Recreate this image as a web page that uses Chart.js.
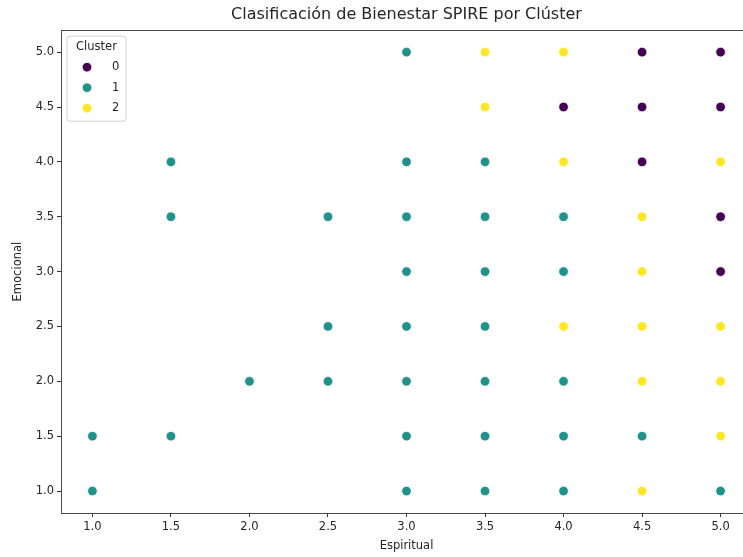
<!DOCTYPE html>
<html>
<head>
<meta charset="utf-8">
<title>Clasificación de Bienestar SPIRE por Clúster</title>
<script src="https://cdn.jsdelivr.net/npm/chart.js@4.4.0/dist/chart.umd.min.js"></script>
<style>
  html, body { margin: 0; padding: 0; background: #fff; overflow: hidden; }
  #wrap { width: 770px; height: 557px; }
</style>
</head>
<body>
<div id="wrap"><canvas id="spireChart"></canvas></div>
<script>
// one entry per respondent: spiritual score, emotional score, assigned cluster
var espiritual = [
  3.0, 3.5, 4.0, 4.5, 5.0,
  3.5, 4.0, 4.5, 5.0,
  1.5, 3.0, 3.5, 4.0, 4.5, 5.0,
  1.5, 2.5, 3.0, 3.5, 4.0, 4.5, 5.0,
  3.0, 3.5, 4.0, 4.5, 5.0,
  2.5, 3.0, 3.5, 4.0, 4.5, 5.0,
  2.0, 2.5, 3.0, 3.5, 4.0, 4.5, 5.0,
  1.0, 1.5, 3.0, 3.5, 4.0, 4.5, 5.0,
  1.0, 3.0, 3.5, 4.0, 4.5, 5.0
];
var emocional = [
  5.0, 5.0, 5.0, 5.0, 5.0,
  4.5, 4.5, 4.5, 4.5,
  4.0, 4.0, 4.0, 4.0, 4.0, 4.0,
  3.5, 3.5, 3.5, 3.5, 3.5, 3.5, 3.5,
  3.0, 3.0, 3.0, 3.0, 3.0,
  2.5, 2.5, 2.5, 2.5, 2.5, 2.5,
  2.0, 2.0, 2.0, 2.0, 2.0, 2.0, 2.0,
  1.5, 1.5, 1.5, 1.5, 1.5, 1.5, 1.5,
  1.0, 1.0, 1.0, 1.0, 1.0, 1.0
];
var cluster = [
  1, 2, 2, 0, 0,
  2, 0, 0, 0,
  1, 1, 1, 2, 0, 2,
  1, 1, 1, 1, 1, 2, 0,
  1, 1, 1, 2, 0,
  1, 1, 1, 2, 2, 2,
  1, 1, 1, 1, 1, 2, 2,
  1, 1, 1, 1, 1, 1, 2,
  1, 1, 1, 1, 2, 1
];

var clusterNames = ['0', '1', '2'];
var clusterColors = ['#440154', '#21918c', '#fde725'];

var xTicks = [1.0, 1.5, 2.0, 2.5, 3.0, 3.5, 4.0, 4.5, 5.0];
var yTicks = [1.0, 1.5, 2.0, 2.5, 3.0, 3.5, 4.0, 4.5, 5.0];

var FONT = "'DejaVu Sans', sans-serif";
var TEXT = '#262626';

function buildDatasets(){
    var sets = [];
    for (var c = 0; c < clusterNames.length; c++){
        var pts = [];
        for (var i = 0; i < cluster.length; i++){
            if (cluster[i] == c) pts.push({x: espiritual[i], y: emocional[i]});
        }
        sets.push({
            label: clusterNames[c],
            data: pts,
            backgroundColor: clusterColors[c],
            borderColor: '#ffffff',
            borderWidth: 0.75,
            pointRadius: 4.8,
            pointHoverRadius: 4.8
        });
    }
    return sets;
}

// centre the title over the plot area instead of the whole canvas
var titleOverPlot = {
    id: 'titleOverPlot',
    afterLayout: function(chart){
        if (chart.titleBlock){
            chart.titleBlock.left = chart.chartArea.left;
            chart.titleBlock.right = chart.chartArea.right;
        }
    }
};

// box around the whole plot area (all four spines)
var framePlugin = {
    id: 'frame',
    afterDatasetsDraw: function(chart){
        var a = chart.chartArea, ctx = chart.ctx;
        ctx.save();
        ctx.strokeStyle = '#4a4a4a';
        ctx.lineWidth = 1;
        ctx.strokeRect(Math.round(a.left) + 0.5, Math.round(a.top) + 0.5,
                       Math.round(a.right - a.left), Math.round(a.bottom - a.top));
        ctx.restore();
    }
};

// legend box in the upper left corner of the plot
var clusterLegend = {
    id: 'clusterLegend',
    afterDraw: function(chart){
        var a = chart.chartArea, ctx = chart.ctx;
        var bx = a.left + 6, by = a.top + 6, bw = 59, bh = 85, r = 3;
        ctx.save();
        ctx.beginPath();
        ctx.moveTo(bx + r, by);
        ctx.arcTo(bx + bw, by, bx + bw, by + bh, r);
        ctx.arcTo(bx + bw, by + bh, bx, by + bh, r);
        ctx.arcTo(bx, by + bh, bx, by, r);
        ctx.arcTo(bx, by, bx + bw, by, r);
        ctx.closePath();
        ctx.fillStyle = 'rgba(255,255,255,0.8)';
        ctx.fill();
        ctx.strokeStyle = '#d0d0d0';
        ctx.lineWidth = 1;
        ctx.stroke();

        ctx.fillStyle = TEXT;
        ctx.font = '11.5px ' + FONT;
        ctx.textBaseline = 'middle';
        ctx.textAlign = 'center';
        ctx.fillText('Cluster', bx + bw / 2, by + 11);

        chart.data.datasets.forEach(function(ds, k){
            var cy = by + 31 + k * 20.5;
            ctx.beginPath();
            ctx.arc(bx + 20, cy, 4.8, 0, Math.PI * 2);
            ctx.fillStyle = ds.backgroundColor;
            ctx.fill();
            ctx.strokeStyle = '#ffffff';
            ctx.lineWidth = 0.75;
            ctx.stroke();
            ctx.fillStyle = TEXT;
            ctx.textAlign = 'left';
            ctx.fillText(ds.label, bx + 45, cy);
        });
        ctx.restore();
    }
};

function axis(title, ticksList, fitFn, titlePad){
    return {
        type: 'linear',
        min: 0.8,
        max: 5.2,
        border: { display: false },
        grid: {
            drawOnChartArea: false,
            drawTicks: true,
            tickLength: 4,
            tickColor: '#333',
            tickWidth: 1
        },
        ticks: {
            includeBounds: false,
            padding: 3,
            color: TEXT,
            font: { family: FONT, size: 11.5 },
            callback: function(v){ return Number(v).toFixed(1); }
        },
        afterBuildTicks: function(scale){
            scale.ticks = ticksList.map(function(v){ return {value: v}; });
        },
        afterFit: fitFn,
        title: {
            display: true,
            text: title,
            color: TEXT,
            font: { family: FONT, size: 11.5 },
            padding: titlePad
        }
    };
}

var ctx = document.getElementById('spireChart').getContext('2d');
var spireChart = new Chart(ctx, {
    type: 'scatter',
    data: { datasets: buildDatasets() },
    options: {
        responsive: true,
        maintainAspectRatio: false,
        animation: false,
        layout: { padding: { left: 0, right: 18, top: 0, bottom: 0 } },
        scales: {
            x: axis('Espiritual', xTicks, function(s){ s.height = 44; }, { top: 0, bottom: 4 }),
            y: axis('Emocional', yTicks, function(s){ s.width = 61; }, { top: 11, bottom: 11 })
        },
        plugins: {
            legend: { display: false },
            tooltip: { enabled: false },
            title: {
                display: true,
                text: 'Clasificación de Bienestar SPIRE por Clúster',
                color: TEXT,
                font: { family: FONT, size: 16, weight: 'normal' },
                padding: { top: 5.5, bottom: 5.5 }
            }
        }
    },
    plugins: [titleOverPlot, framePlugin, clusterLegend]
});
</script>
</body>
</html>
